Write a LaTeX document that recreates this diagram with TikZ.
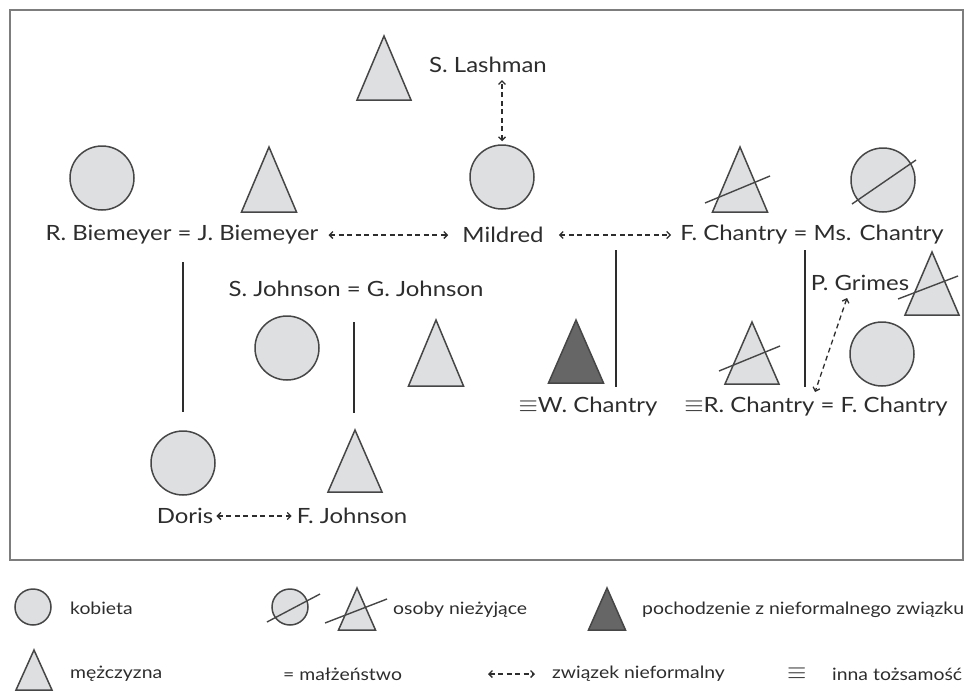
\documentclass[tikz,border=0pt]{standalone}
\usepackage{fontspec}
\setmainfont{Lato}[FakeStretch=1.14]
\usetikzlibrary{arrows.meta}
\definecolor{fillgray}{RGB}{221,223,225}
\definecolor{darkfill}{RGB}{102,102,102}
\definecolor{linegray}{RGB}{70,70,70}
\definecolor{txtgray}{RGB}{45,45,45}
\definecolor{framegray}{RGB}{125,125,125}
\tikzset{
  woman/.style={circle, draw=linegray, line width=1.5pt, fill=fillgray, minimum size=64pt, inner sep=0pt},
  keywoman/.style={woman, minimum size=36pt},
  man/.style={draw=linegray, line width=1.5pt, fill=fillgray, line join=miter},
  illegit/.style={man, fill=darkfill},
  dead/.style={line width=1.4pt, draw=linegray},
  lbl/.style={text=txtgray, font=\fontsize{21}{24}\selectfont, inner sep=1pt},
  key/.style={text=txtgray, font=\fontsize{17}{20}\selectfont, inner sep=0pt, anchor=west},
  inf/.style={draw=txtgray, line width=1.3pt, dash pattern=on 5pt off 3.5pt,
    {Straight Barb[length=3.5pt,width=7pt]}-{Straight Barb[length=3.5pt,width=7pt]}},
  kin/.style={draw=txtgray, line width=2pt}
}
% triangle: [style]{apex x}{apex y}{base width}{height}
\newcommand{\tri}[5][man]{\draw[#1] (#2,#3) -- ++(#4/2,#5) -- ++(-#4,0) -- cycle;}
\newcommand{\ident}{{\fontsize{23}{24}\selectfont$\equiv$}}
\begin{document}
\begin{tikzpicture}[x=1pt,y=-1pt]
\useasboundingbox (0,0) rectangle (969,691);
\draw[framegray, line width=2.5pt] (10,10) rectangle (963,560);
\tri{384}{36}{54}{64}
\node[lbl] (lash) at (488,65) {S. Lashman};
\node[woman] (biemc) at (102,178) {};
\tri{269}{147}{55}{65}
\node[woman] (mildc) at (502,177) {};
\tri{740}{147}{55}{65}
\draw[dead] (705,203) -- (770,176);
\node[woman] (chanc) at (883,180) {};
\draw[dead] (852,204) -- (916,160);
\node[lbl] (biem) at (182,235) {R. Biemeyer = J. Biemeyer};
\node[lbl] (mild) at (503,235) {Mildred};
\node[lbl] (chan) at (812,235) {F. Chantry = Ms. Chantry};
\draw[inf, shorten <=3pt, shorten >=6pt] (mildc.north) -- (mildc.north |- lash.south);
\draw[inf, shorten <=9pt, shorten >=13pt] (biem) -- (mild);
\draw[inf, shorten <=14pt, shorten >=8pt] (mild) -- (chan);
\node[lbl] (john) at (356,289) {S. Johnson = G. Johnson};
\node[lbl] (grimes) at (860,283) {P. Grimes};
\tri[man]{932}{252}{54}{63}
\draw[dead] (898,299) -- (958,276);
\node[woman] (johnc) at (287,348) {};
\tri{436}{320}{55}{66}
\tri[illegit]{576}{320}{55}{63}
\tri{752}{322}{54}{62}
\draw[dead] (719,371) -- (780,346);
\node[woman] (rchanc) at (882,354) {};
\node[lbl] (wch) at (588,407) {\ident W. Chantry};
\node[lbl] (rch) at (816,407) {\ident R. Chantry = F. Chantry};
\coordinate (g1) at (847,298);
\coordinate (g2) at (815,392);
\draw[inf] (g1) -- (g2);
\coordinate (l1a) at (183,262);
\coordinate (l1b) at (183,412);
\coordinate (l2a) at (354,322);
\coordinate (l2b) at (354,413);
\coordinate (l3a) at (616,250);
\coordinate (l3b) at (616,387);
\coordinate (l4a) at (805,250);
\coordinate (l4b) at (805,387);
\draw[kin] (l1a) -- (l1b);
\draw[kin] (l2a) -- (l2b);
\draw[kin] (l3a) -- (l3b);
\draw[kin] (l4a) -- (l4b);
\node[woman] (dorisc) at (183,463) {};
\tri{355}{430}{54}{62}
\node[lbl] (doris) at (185,516) {Doris};
\node[lbl] (fjohn) at (352,516) {F. Johnson};
\draw[inf, shorten <=2pt, shorten >=4pt] (doris) -- (fjohn);
\node[keywoman] (k1) at (33,607) {};
\node[key] (k1t) at (70,608) {kobieta};
\node[keywoman] (k2) at (290,607) {};
\draw[dead] (267,622) -- (320,594);
\tri{357}{588}{37}{42}
\draw[dead] (325,623) -- (387,599);
\node[key] (k2t) at (393,610) {osoby nieżyjące};
\tri[illegit]{607}{588}{37}{42}
\node[key] (k3t) at (642,610) {pochodzenie z nieformalnego związku};
\tri{34}{650}{36}{40}
\node[key] (k4t) at (70,674) {mężczyzna};
\node[key] (k5t) at (283,674) {= małżeństwo};
\coordinate (ka) at (488,674);
\coordinate (kb) at (535,674);
\draw[inf] (ka) -- (kb);
\node[key] (k6t) at (552,674) {związek nieformalny};
\node[key] (k7s) at (787,674) {\ident};
\node[key] (k7t) at (832,674) {inna tożsamość};
\end{tikzpicture}
\end{document}
